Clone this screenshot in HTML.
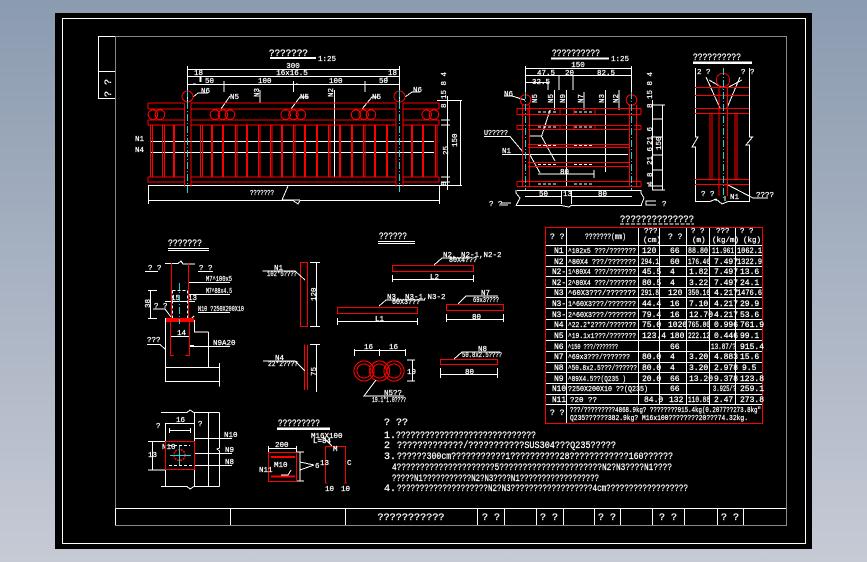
<!DOCTYPE html>
<html><head><meta charset="utf-8"><style>
html,body{margin:0;padding:0;width:867px;height:562px;overflow:hidden;background:linear-gradient(180deg,#8b9bb0,#c6cad5)}
svg{display:block;position:absolute;left:0;top:0}
svg path,svg rect,svg circle{shape-rendering:crispEdges}
text{font-family:"Liberation Mono","Liberation Sans",sans-serif;fill:#fff;stroke:#fff;stroke-width:.25;font-size:8px}
.t{font-size:10px}.m{text-anchor:middle}.s{font-size:7.5px}
.w{stroke:#fff;fill:none;stroke-width:1}
.r{stroke:#f00;fill:none;stroke-width:1}
.rt{stroke:#f00;fill:none;stroke-width:2}
.c{stroke:#1fd6d6;fill:none;stroke-width:1;stroke-dasharray:7 2 1 2}
.g{stroke:#888;fill:none;stroke-width:1}
</style></head><body>
<svg width="867" height="562" viewBox="0 0 867 562">
<rect x="55" y="13" width="757" height="536" fill="#000"/>
<path class="w" d="M62.5 18.5H805.5V543.5H62.5Z"/>
<path class="g" d="M115.5 36.5H786.5V525.5H115.5Z"/>
<path class="w" d="M115 36.5H98.5V98.5H115M98.5 71.5H115M115.5 508.5H786M115.5 508.5V525M230.5 508.5V525M345.5 508.5V525M477.5 508.5V525M504.5 508.5V525M536.5 508.5V525M563.5 508.5V525M594.5 508.5V525M620.5 508.5V525M652.5 508.5V525M684.5 508.5V525M717.5 508.5V525M743.5 508.5V525"/>
<text transform="translate(111,97) rotate(-90)" class="t">? ?</text>
<text x="411" y="520" class="t m" textLength="67" lengthAdjust="spacingAndGlyphs">???????????</text>
<text x="491" y="520" class="t m">? ?</text><text x="549" y="520" class="t m">? ?</text><text x="607" y="520" class="t m">? ?</text><text x="668" y="520" class="t m">? ?</text><text x="730" y="520" class="t m">? ?</text>

<!-- front elevation -->
<text x="269" y="56" class="t" textLength="39" lengthAdjust="spacingAndGlyphs">???????</text>
<path d="M270 58H316" stroke="#fff" stroke-width="2"/><text x="318" y="61" class="s">1:25</text>
<path class="w" d="M187.5 66V103M399.5 66V103M187.5 69.5H399.5M187.5 76.5H399.5M187.5 84.5H399.5M200 76V82M201 76V82M387 76V82M224 81V92M293.5 81V92M365 81V92M193 84H196M296 84H298M260 90V103M334.5 90V177M148.5 185.5H439.5M148.5 185V204M439.5 185V204M148.5 200.5H293L298 204L300 200.5H439.5M150 141.5H434M150 152.5H434M447.5 96V190M460.5 100V185M437 100.5H462M437 185.5H462M441 120H450M441 125H450M441 177H450M441 182H450"/>
<path class="w" d="M193 97L198 93H208M221 109L230 96M291 109L300 97H308M362 109L372 97H378M405 97L412 92H420M300 200H282L288 186"/>
<text x="293" y="68" class="s m">300</text><text x="292" y="75" class="s m">16x16.5</text><text x="194" y="75" class="s">18</text><text x="388" y="75" class="s">18</text>
<text x="205" y="83" class="s">50</text><text x="258" y="83" class="s">100</text><text x="329" y="83" class="s">100</text><text x="379" y="83" class="s">50</text>
<text x="201" y="93" class="s">N6</text><text x="230" y="99" class="s">N5</text><text x="300" y="99" class="s">N5</text><text x="372" y="99" class="s">N5</text><text x="413" y="92" class="s">N6</text>
<text x="135" y="141" class="s">N1</text><text x="135" y="152" class="s">N4</text>
<text x="250" y="195" class="s" textLength="24" lengthAdjust="spacingAndGlyphs">???????</text>
<text transform="translate(259,97) rotate(-90)" class="s">N3</text><text transform="translate(333,97) rotate(-90)" class="s">N2</text>
<text transform="translate(457,147) rotate(-90)" class="s">150</text><text transform="translate(448,155) rotate(-90)" class="s">25</text><text transform="translate(446,108) rotate(-90)" class="s">8 15 8 4</text><text transform="translate(446,186) rotate(-90)" class="s">8</text>
<path class="r" d="M148 103H184M191 103H396M403 103H439M148 103V109M439 103V109M148 109H184M191 109H396M403 109H439M148 120H184M191 120H396M403 120H439M148 120V125H184M191 120V125H396V120M403 125H439V120M148 177H184M191 177H396M403 177H439M148 177V182H184M191 177V182H396V177M403 182H439V177M184.5 103V187M191 103V187M396 103V187M403 103V187"/>
<g class="r">
<circle cx="187.5" cy="96.5" r="5.5"/><circle cx="399.5" cy="96.5" r="5.5"/>
<circle cx="153" cy="114.7" r="4.8"/><circle cx="160" cy="114.7" r="4.8"/>
<circle cx="215" cy="114.7" r="4.8"/><circle cx="223" cy="114.7" r="4.8"/><circle cx="230" cy="114.7" r="4.8"/>
<circle cx="285.7" cy="114.7" r="4.8"/><circle cx="293.5" cy="114.7" r="4.8"/><circle cx="301" cy="114.7" r="4.8"/>
<circle cx="356" cy="114.7" r="4.8"/><circle cx="363.7" cy="114.7" r="4.8"/><circle cx="371" cy="114.7" r="4.8"/>
<circle cx="426.7" cy="114.7" r="4.8"/><circle cx="434" cy="114.7" r="4.8"/>
</g>
<path class="r" d="M150.5 125V177M152.5 125V177M162.5 125V177M164.5 125V177M200.5 125V177M202.5 125V177M235.5 125V177M237 125V177M258.5 125V177M260 125V177M270.5 125V177M272 125V177M293.5 125V177M295 125V177M328.5 125V177M330 125V177M363.5 125V177M365 125V177M435.5 125V177M437 125V177"/>
<path stroke="#f00" stroke-width="2" fill="none" d="M174 125V177M212 125V177M223 125V177M247 125V177M282 125V177M305 125V177M317 125V177M340 125V177M352 125V177M375 125V177M387 125V177M412 125V177M423 125V177"/>
<path class="c" d="M187.5 90V194M399.5 90V192"/>

<!-- side elevation -->
<text x="552" y="56" class="t" textLength="48" lengthAdjust="spacingAndGlyphs">??????????</text>
<path d="M551 58.5H609" stroke="#fff" stroke-width="2"/><text x="611" y="61" class="s">1:25</text>
<path class="w" d="M525.5 66V94M631.5 66V94M525.5 68.5H631.5M525.5 75.5H631.5M525.5 82.5H548M548 82V90M559 75V90M573 75V90M554.5 90V110M566.5 90V186M584 92V110M605.5 90V172M619 90V110M517 190.5H641M516 190V193L520 198L516 205.5M641 190V193L644 198L641 205.5M525 196.5H561M571 196.5H632M561.5 190V204M571.5 190V204M516 205.5H561L569 207L571 205.5H642M484 136.5H510L523 152M502 154.5H628M550 110L541.5 136.5L555 161M541.5 136H530M530 155L540 173M538 174H594M594 170V178M525 100L512 96H504M652.5 100V190M662.5 105V190M652 105H665M652 190H665M648 186H662M652 170H662M652 155H662M652 137H662M652 119H662"/>
<path stroke="#fff" stroke-dasharray="3 2" fill="none" d="M538 112H558M574 112H594M538 127H558M574 127H594M538 145.5H558M574 145.5H594M538 164.5H558M574 164.5H594M538 184H558M574 184H594"/>
<text x="578" y="67" class="s m">150</text><text x="537" y="75" class="s">47.5</text><text x="565" y="75" class="s">20</text><text x="597" y="75" class="s">82.5</text><text x="532" y="84" class="s">32.5</text>
<text x="504" y="96" class="s">N6</text><text x="484" y="135" class="s" textLength="24" lengthAdjust="spacingAndGlyphs">U?????</text><text x="502" y="153" class="s">N1</text><text x="560" y="174" class="s">80</text>
<text x="539" y="196" class="s">50</text><text x="563" y="196" class="s">13</text><text x="598" y="196" class="s">80</text>
<text x="489" y="206" class="s">? ?</text>
<path class="w" d="M501 203H511M501 205H508M656 201H646V205H656"/>
<text x="662" y="206" class="s">?</text>
<text transform="translate(537,103) rotate(-90)" class="s">N5</text><text transform="translate(553,103) rotate(-90)" class="s">N5</text><text transform="translate(565,103) rotate(-90)" class="s">N9</text><text transform="translate(583,103) rotate(-90)" class="s">N7</text><text transform="translate(604,103) rotate(-90)" class="s">N3</text><text transform="translate(618,103) rotate(-90)" class="s">N2</text>
<text transform="translate(661,150) rotate(-90)" class="s">150</text><text transform="translate(652,108) rotate(-90)" class="s">8 15 8 4</text><text transform="translate(652,145) rotate(-90)" class="s">21 6</text><text transform="translate(652,165) rotate(-90)" class="s">21 6</text><text transform="translate(652,186) rotate(-90)" class="s">4 8</text>
<path class="r" d="M517 108.5H641M517 114.5H641M517 108.5V114.5M641 108.5V114.5M517 125.5H524M517 129.5H524M517 125.5V129.5M634 125.5H641M634 129.5H641M641 125.5V129.5M528 125.5H629M528 129.5H629M528 144.5H629M528 147.5H629M528 162.5H629M528 166.5H629M517 181.5H641M517 186.5H641M517 181.5V186.5M641 181.5V186.5M522.5 105V186M529.5 105V186M629.5 105V186M636.5 105V186"/>
<path class="r" d="M528 108.5V114.5M560 108.5V114.5M574 108.5V114.5M595 108.5V114.5M560 125.5V129.5M574 125.5V129.5M595 125.5V129.5"/>
<circle class="r" cx="525.5" cy="100" r="5.3"/><circle class="r" cx="631.5" cy="100" r="5.3"/>
<path class="c" d="M525.5 92V190M631.5 92V190"/>
<!-- section -->
<text x="693" y="60" class="t" textLength="48" lengthAdjust="spacingAndGlyphs">??????????</text>
<path d="M693 62.5H752" stroke="#fff" stroke-width="2.5"/>
<path class="w" d="M695.5 68V137H698L692 147H695.5V201.5H710L716 199L722 204L728 201.5H749.5V145H746L752.5 137H749.5V68M706 77L720 108M709 80L723 88M740 77L727 108M742 80L727 88M728 185L753 198H768M716 199V201M725 196V201"/>
<text x="697" y="74" class="s">2 ?</text><text x="741" y="74" class="s">? ?</text>
<text x="701" y="196" class="s">? ?</text><text x="730" y="199" class="s">N1</text><text x="756" y="197" class="s">????</text>
<path class="r" d="M695 87.5H749M695 95.5H749M695 108.5H749M695 113.5H749M695 179.5H749M695 184.5H749M719 87V196M727.5 87V196"/>
<path class="r" d="M710 114V179M712 114V179M735 114V179M737 114V179"/>
<circle class="r" cx="723" cy="80" r="6.7"/>
<path class="c" d="M723.5 68V200"/>

<!-- table -->
<text x="620" y="222" class="t" textLength="74" lengthAdjust="spacingAndGlyphs">??????????????</text>
<path d="M620 224H694" stroke="#fff" stroke-width="1" stroke-dasharray="4 1.5"/>
<path class="w" d="M546 245.5H762M546 255.5H762M546 266.5H762M546 276.5H762M546 287.5H762M546 297.5H762M546 308.5H762M546 319.5H762M546 329.5H762M546 340.5H762M546 351.5H762M546 362.5H762M546 372.5H762M546 383.5H762M546 394.5H762M546 404.5H762M566.5 228V423M638.5 228V405M659.5 228V405M686.5 228V405M709.5 228V405M735.5 228V405"/>
<rect x="545.5" y="227.5" width="217" height="196" fill="none" stroke="#f00" stroke-width="1"/>
<g>
<text x="550" y="239">? ?</text><text x="585" y="239" textLength="41" lengthAdjust="spacingAndGlyphs">???????(mm)</text><text x="644" y="233" class="s">???</text><text x="643" y="242" class="s">(cm)</text><text x="668" y="239">? ?</text><text x="691" y="233" class="s">?  ?</text><text x="692" y="242" class="s">(m)</text><text x="716" y="233" class="s">???</text><text x="712" y="242" class="s">(kg/m)</text><text x="740" y="233" class="s">?  ?</text><text x="743" y="242" class="s">(kg)</text>
<text x="554" y="253">N1</text><text x="568" y="253" textLength="68" lengthAdjust="spacingAndGlyphs" class="s">^102x5 ???/???????</text><text x="642" y="253">120</text><text x="670" y="253">66</text><text x="688" y="253" textLength="20" lengthAdjust="spacingAndGlyphs">88.80</text><text x="712" y="253" textLength="22" lengthAdjust="spacingAndGlyphs">11.961</text><text x="737" y="253" textLength="25" lengthAdjust="spacingAndGlyphs">1062.1</text>
<text x="554" y="264">N2</text><text x="568" y="264" textLength="68" lengthAdjust="spacingAndGlyphs" class="s">^80X4 ???/???????</text><text x="641" y="264" textLength="18" lengthAdjust="spacingAndGlyphs">294.1</text><text x="670" y="264">60</text><text x="688" y="264" textLength="22" lengthAdjust="spacingAndGlyphs">176.46</text><text x="714" y="264">7.497</text><text x="737" y="264" textLength="25" lengthAdjust="spacingAndGlyphs">1322.9</text>
<text x="552" y="274" textLength="14" lengthAdjust="spacingAndGlyphs">N2-</text><text x="568" y="274" textLength="68" lengthAdjust="spacingAndGlyphs" class="s">1^80X4 ???/???????</text><text x="642" y="274">45.5</text><text x="670" y="274">4</text><text x="689" y="274">1.82</text><text x="714" y="274">7.497</text><text x="740" y="274">13.6</text>
<text x="552" y="285" textLength="14" lengthAdjust="spacingAndGlyphs">N2-</text><text x="568" y="285" textLength="68" lengthAdjust="spacingAndGlyphs" class="s">2^80X4 ???/???????</text><text x="642" y="285">80.5</text><text x="670" y="285">4</text><text x="689" y="285">3.22</text><text x="714" y="285">7.497</text><text x="740" y="285">24.1</text>
<text x="554" y="295">N3</text><text x="568" y="295" textLength="68" lengthAdjust="spacingAndGlyphs" class="s">^60X3???/???????</text><text x="641" y="295" textLength="18" lengthAdjust="spacingAndGlyphs">291.8</text><text x="668" y="295">120</text><text x="688" y="295" textLength="22" lengthAdjust="spacingAndGlyphs">350.16</text><text x="714" y="295">4.217</text><text x="737" y="295" textLength="25" lengthAdjust="spacingAndGlyphs">1476.6</text>
<text x="552" y="306" textLength="14" lengthAdjust="spacingAndGlyphs">N3-</text><text x="568" y="306" textLength="68" lengthAdjust="spacingAndGlyphs" class="s">1^60X3???/???????</text><text x="642" y="306">44.4</text><text x="670" y="306">16</text><text x="689" y="306">7.10</text><text x="714" y="306">4.217</text><text x="740" y="306">29.9</text>
<text x="552" y="317" textLength="14" lengthAdjust="spacingAndGlyphs">N3-</text><text x="568" y="317" textLength="68" lengthAdjust="spacingAndGlyphs" class="s">2^60X3???/???????</text><text x="642" y="317">79.4</text><text x="670" y="317">16</text><text x="689" y="317">12.70</text><text x="714" y="317">4.217</text><text x="740" y="317">53.6</text>
<text x="554" y="327">N4</text><text x="568" y="327" textLength="68" lengthAdjust="spacingAndGlyphs" class="s">^22.2*2???/???????</text><text x="642" y="327">75.0</text><text x="668" y="327">1020</text><text x="688" y="327" textLength="22" lengthAdjust="spacingAndGlyphs">765.00</text><text x="714" y="327">0.996</text><text x="740" y="327">761.9</text>
<text x="554" y="338">N5</text><text x="568" y="338" textLength="68" lengthAdjust="spacingAndGlyphs" class="s">^19.1x1???/???????</text><text x="642" y="338">123.4</text><text x="670" y="338">180</text><text x="688" y="338" textLength="22" lengthAdjust="spacingAndGlyphs">222.12</text><text x="714" y="338">0.446</text><text x="740" y="338">99.1</text>
<text x="554" y="349">N6</text><text x="568" y="349" textLength="50" lengthAdjust="spacingAndGlyphs" class="s">^150 ???/???????</text><text x="670" y="349">66</text><text x="711" y="349" textLength="25" lengthAdjust="spacingAndGlyphs">13.87/?</text><text x="740" y="349">915.4</text>
<text x="554" y="359">N7</text><text x="568" y="359" textLength="62" lengthAdjust="spacingAndGlyphs" class="s">^69x3???/???????</text><text x="642" y="359">80.0</text><text x="670" y="359">4</text><text x="689" y="359">3.20</text><text x="714" y="359">4.883</text><text x="740" y="359">15.6</text>
<text x="554" y="370">N8</text><text x="568" y="370" textLength="69" lengthAdjust="spacingAndGlyphs" class="s">^50.8x2.5???/??????</text><text x="642" y="370">80.0</text><text x="670" y="370">4</text><text x="689" y="370">3.20</text><text x="714" y="370">2.978</text><text x="742" y="370">9.5</text>
<text x="554" y="381">N9</text><text x="568" y="381" textLength="58" lengthAdjust="spacingAndGlyphs" class="s">^89X4.5??(Q235 )</text><text x="642" y="381">20.0</text><text x="670" y="381">66</text><text x="689" y="381">13.20</text><text x="714" y="381">9.378</text><text x="740" y="381">123.8</text>
<text x="552" y="391" textLength="14" lengthAdjust="spacingAndGlyphs">N10</text><text x="568" y="391" textLength="80" lengthAdjust="spacingAndGlyphs" class="s">?250X200X10 ??(Q235)</text><text x="670" y="391">66</text><text x="713" y="391" textLength="23" lengthAdjust="spacingAndGlyphs">3.925/?</text><text x="740" y="391">259.1</text>
<text x="552" y="402" textLength="14" lengthAdjust="spacingAndGlyphs">N11</text><text x="570" y="402" class="s">?20 ??</text><text x="644" y="402">84.0</text><text x="669" y="402">132</text><text x="688" y="402" textLength="22" lengthAdjust="spacingAndGlyphs">110.88</text><text x="714" y="402">2.47</text><text x="740" y="402">273.8</text>
<text x="550" y="415">? ?</text>
<text x="570" y="412" textLength="191" lengthAdjust="spacingAndGlyphs" class="s">???/?????????4868.9kg? ????????915.4kg(0.2077??273.8kg"</text>
<text x="570" y="420" textLength="178" lengthAdjust="spacingAndGlyphs" class="s">Q235??????382.9kg?  M16x100????????20???74.32kg.</text>
</g>

<!-- left section -->
<text x="168" y="246" class="t" textLength="34" lengthAdjust="spacingAndGlyphs">???????</text>
<path class="w" d="M168 248.5H209M168 250.5H209M165 263.5H178L181 261L183 264H195M145 271.5H158M198 271.5H213M150.5 290.5V318.5M148 290.5H157M148 318.5H157M188 282.5H230M188 294.5H230M198 312.5H230M194 316L190 320M153 309H165L171 317M165 301.5H195M165.5 318V381.5M165 367.5H219M165 381.5H219M219.5 363V386.5M208.5 332V367M194.5 320V332H208.5M147 344.5H160L165 349M190 346.5H230M170 336.5H189"/>
<path stroke="#fff" stroke-dasharray="3 2" fill="none" d="M172.5 290.5H187.5V318M172.5 290.5V318"/>
<text x="148" y="270" class="s">? ?</text><text x="199" y="270" class="s">? ?</text>
<text x="206" y="281" class="s" textLength="26" lengthAdjust="spacingAndGlyphs">M7^100x5</text><text x="206" y="293" class="s" textLength="26" lengthAdjust="spacingAndGlyphs">M7^88x4.5</text>
<text x="198" y="311" class="s" textLength="46" lengthAdjust="spacingAndGlyphs">N10 ?250X200X10</text>
<text x="154" y="308" class="s">? ?</text>
<text x="147" y="342" class="s">???</text><text x="213" y="345" class="s">N9A20</text>
<text x="177" y="335" class="s">14</text><text x="171" y="300" class="s">15</text><text x="188" y="300" class="s">13</text>
<text transform="translate(150,308) rotate(-90)" class="s">38</text>
<path class="r" d="M171.5 263V318M188.5 263V318"/><path class="rt" d="M166 319H194M166 321H194"/>
<path class="r" d="M170.5 320V355.5H174M189.5 320V355.5H185"/>
<path class="c" d="M179.5 283V324"/>
<path d="M190 346H194" stroke="#fff" stroke-width="2"/>

<!-- N1 N4 details -->
<rect x="300.5" y="262.5" width="7" height="64" class="r"/>
<path class="r" d="M304.5 344.5V390M307.5 344.5V390"/>
<path class="w" d="M310 262.5H320M310 326.5H320M316.5 262.5V326.5M310 344.5H320M316.5 344.5V392M262.5 271H295L305 280M263 361H295L305 371"/>
<text x="274" y="270" class="s">N1</text><text x="267" y="276" class="s" textLength="30" lengthAdjust="spacingAndGlyphs">102*5????</text>
<text x="275" y="360" class="s">N4</text><text x="268" y="366" class="s" textLength="30" lengthAdjust="spacingAndGlyphs">22*2????</text>
<text transform="translate(316,301) rotate(-90)" class="s">120</text><text transform="translate(316,376) rotate(-90)" class="s">75</text>

<!-- middle details -->
<text x="379" y="239" class="t" textLength="28" lengthAdjust="spacingAndGlyphs">??????</text>
<path class="w" d="M378 241.5H415M378 243.5H415"/>
<rect x="392.5" y="265.5" width="81" height="6" class="r"/>
<path class="w" d="M434 265L442 258H470M392.5 275V282M473.5 275V282M392.5 279.5H473.5M379 306L386 300H425"/>
<text x="443" y="257" class="s">N2, N2-1,N2-2</text><text x="449" y="262" class="s" textLength="28" lengthAdjust="spacingAndGlyphs">80X4???</text><text x="430" y="279" class="s">L2</text>
<rect x="337.5" y="307.5" width="80" height="6" class="r"/>
<path class="w" d="M337.5 318V325M417.5 318V325M337.5 321.5H417.5"/>
<text x="387" y="299" class="s">N3, N3-1,N3-2</text><text x="392" y="304" class="s" textLength="28" lengthAdjust="spacingAndGlyphs">60X3???</text><text x="375" y="321" class="s">L1</text>
<rect x="446.5" y="304.5" width="57" height="6" class="r"/>
<path class="w" d="M446.5 314V322M503.5 314V322M446.5 319.5H503.5M458 304L466 296H498"/>
<text x="481" y="295" class="s">N7</text><text x="473" y="302" class="s" textLength="26" lengthAdjust="spacingAndGlyphs">69x3????</text><text x="472" y="319" class="s">80</text>
<rect x="440.5" y="359.5" width="57" height="5" class="r"/>
<path class="w" d="M440.5 368V378M497.5 368V378M440.5 374.5H497.5M454 359L462 352H500"/>
<text x="478" y="351" class="s">N8</text><text x="462" y="357" class="s" textLength="40" lengthAdjust="spacingAndGlyphs">50.8x2.5????</text><text x="465" y="374" class="s">80</text>
<g class="r">
<circle cx="364" cy="371" r="10"/><circle cx="364" cy="371" r="7"/>
<circle cx="379.5" cy="371" r="10"/><circle cx="379.5" cy="371" r="7"/>
<circle cx="394" cy="371" r="10"/><circle cx="394" cy="371" r="7"/>
</g>
<path class="w" d="M354.5 349V356M379.5 349V356M405.5 349V356M354.5 350.5H405.5M407 360H415M407 381H415M412.5 360V381M376 380L364 396H404"/>
<text x="364" y="349" class="s">16</text><text x="389" y="349" class="s">16</text><text x="407" y="374" class="s">19</text>
<text x="384" y="395" class="s">N5??</text><text x="372" y="402" class="s" textLength="34" lengthAdjust="spacingAndGlyphs">19.1*1.0????</text>

<!-- bottom left -->
<path class="w" d="M161 412.5H187L190 410L194 412.5H219.5M194.5 412.5V486.5M208.5 412.5V486.5M219.5 412.5V448L217 449L219.5 451V486.5M161 486.5H187L190 489L194 486.5H219.5M165.5 423V486.5M165.5 423.5H194M194 438.5H232M194 453.5H232M194 465.5H232M152.5 441.5V470M148 441.5H166M148 470H166M169 430.5H191M169.5 428V433M190.5 428V433"/>
<text x="176" y="422" class="s">16</text><text x="224" y="437" class="s">N10</text><text x="225" y="452" class="s">N9</text><text x="225" y="464" class="s">N8</text><text x="162" y="449" class="s">N10</text><text x="148" y="457" class="s">13</text><text x="156" y="428" class="s">?</text><text x="198" y="426" class="s">?</text>
<rect x="165.5" y="441.5" width="29" height="28" fill="none" stroke="#f00" stroke-width="1"/>
<circle cx="179.5" cy="455" r="5.5" fill="none" stroke="#f00" stroke-width="1.6" stroke-dasharray="2 1"/>
<path class="c" d="M170 455.5H191M179.5 445V465" style="stroke-dasharray:none"/>
<path stroke="#fff" stroke-dasharray="3 2" fill="none" d="M169 445.5H190M169 465.5H192"/>

<text x="278" y="426" class="t" textLength="42" lengthAdjust="spacingAndGlyphs">?????????</text>
<path d="M277 428.5H330" stroke="#fff" stroke-width="2.5"/>
<path class="w" d="M268.5 446V452M296.5 446V452M268.5 448.5H296.5M297 452H304M300 452V481M297 481H304M300 462L314 465M300 470L314 465"/>
<rect x="268.5" y="452.5" width="28" height="29" fill="none" stroke="#f00" stroke-width="1"/>
<path d="M271 457H295M271 476.5H295" stroke="#f00" stroke-width="2"/>
<text x="275" y="447" class="s">200</text><text x="274" y="467" class="s">M10</text><text x="259" y="472" class="s">N11</text><text x="315" y="468" class="s">6</text>
<path class="w" d="M281 475H288L291 470"/>
<path class="r" d="M325.5 483V446.5H345.5V483M325 483H327M344 483H347"/>
<path class="w" d="M332 446L323 437"/>
<text x="311" y="438" class="s">M16X100</text><text x="313" y="443" class="s">L=84</text>
<text x="320" y="465" class="s">13</text><text x="347" y="465" class="s">C</text><text x="325" y="491" class="s">10</text><text x="341" y="491" class="s">10</text><text x="333" y="451" class="s">M</text>

<!-- notes -->
<text x="384" y="425" class="t">?   ??</text>
<g>
<text x="384" y="438" style="font-size:10px">1.</text><text x="396" y="438" textLength="140" lengthAdjust="spacingAndGlyphs" style="font-size:10px">?????????????????????????????</text>
<text x="384" y="448" style="font-size:10px">2</text><text x="397" y="448" textLength="219" lengthAdjust="spacingAndGlyphs" style="font-size:10px">?????????????/???????????SUS304???Q235?????</text>
<text x="384" y="459" style="font-size:10px">3.</text><text x="397" y="459" textLength="276" lengthAdjust="spacingAndGlyphs" style="font-size:10px">??????300cm???????????1??????????28????????????160??????</text>
<text x="392" y="470" textLength="280" lengthAdjust="spacingAndGlyphs" style="font-size:10px">4?????????????????????5??????????????????????N2?N3????N1????</text>
<text x="392" y="481" textLength="207" lengthAdjust="spacingAndGlyphs" style="font-size:10px">?????N1???????????N2?N3????N1??????????????????</text>
<text x="384" y="491" style="font-size:10px">4.</text><text x="397" y="491" textLength="291" lengthAdjust="spacingAndGlyphs" style="font-size:10px">????????????????????N2?N3??????????????????4cm??????????????????</text>
</g>
</svg>
</body></html>
